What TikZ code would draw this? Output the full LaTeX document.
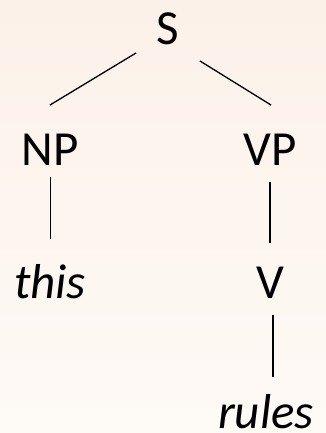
\documentclass[tikz,border=0pt]{standalone}
\usepackage{fontspec}
\setmainfont{Carlito}
\definecolor{bgtop}{RGB}{252,241,233}
\definecolor{bgbot}{RGB}{254,250,246}
\begin{document}
\begin{tikzpicture}[x=1pt,y=-1pt,
  lab/.style={anchor=base,inner sep=0pt,font=\fontsize{49}{55}\selectfont},
  word/.style={lab,font=\fontsize{49}{55}\selectfont\itshape},
  edge/.style={line width=1.3pt,black}]
\path[use as bounding box,top color=bgtop,bottom color=bgbot] (0,0) rectangle (326,433);
\node[lab] (S) at (168,45) {S};
\node[lab] (NP) at (50,165) {NP};
\node[lab] (VP) at (270,165) {VP};
\node[word] (this) at (50,298) {this};
\node[lab] (V) at (270,298) {V};
\node[word] (rules) at (266,428) {rules};
\coordinate (sA) at (136,53);
\coordinate (npA) at (50,105);
\coordinate (sB) at (200,61);
\coordinate (vpA) at (271,105);
\coordinate (npB) at (50.7,177);
\coordinate (thisA) at (50.7,239);
\coordinate (vpB) at (270,182);
\coordinate (vA) at (270,243);
\coordinate (vB) at (273,315);
\coordinate (rulesA) at (273,377);
\draw[edge] (sA) -- (npA);
\draw[edge] (sB) -- (vpA);
\draw[edge] (npB) -- (thisA);
\draw[edge] (vpB) -- (vA);
\draw[edge] (vB) -- (rulesA);
\end{tikzpicture}
\end{document}
